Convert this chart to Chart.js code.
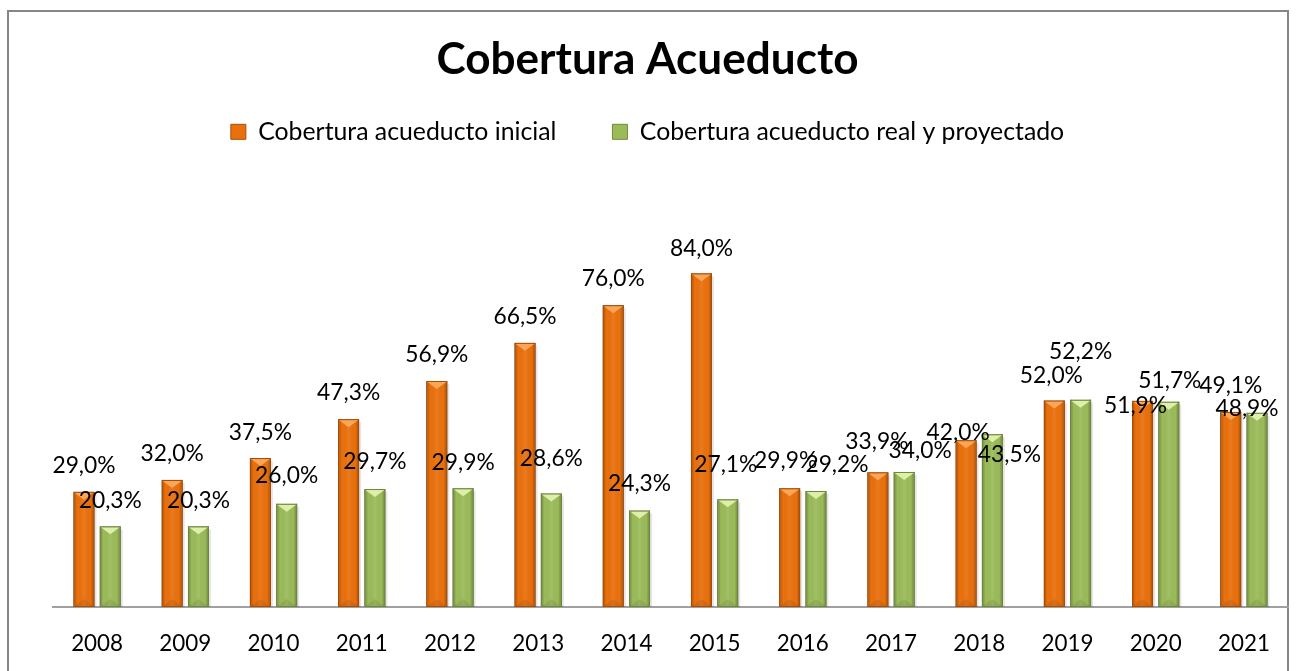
<!DOCTYPE html>
<html><head><meta charset="utf-8">
<script src="https://cdn.jsdelivr.net/npm/chart.js@4.4.1/dist/chart.umd.min.js"></script>
<style>html,body{margin:0;padding:0;background:#fff}</style>
</head><body>
<canvas id="c" width="1296" height="671"></canvas>
<script>
// ---- data ----
const years = ['2008','2009','2010','2011','2012','2013','2014','2015','2016','2017','2018','2019','2020','2021'];
const inicial = [29.0, 32.0, 37.5, 47.3, 56.9, 66.5, 76.0, 84.0, 29.9, 33.9, 42.0, 52.0, 51.9, 49.1];
const realProyectado = [20.3, 20.3, 26.0, 29.7, 29.9, 28.6, 24.3, 27.1, 29.2, 34.0, 43.5, 52.2, 51.7, 48.9];
const seriesNames = ['Cobertura acueducto inicial', 'Cobertura acueducto real y proyectado'];
const chartTitle = 'Cobertura Acueducto';

// label nudges (dx, dy) relative to the default spot above each bar
const inicialNudge = [[0,0],[0,0],[0,1],[0,0],[0,0],[0,0],[0,0],[0,1],[-4,-2],[-1,-5],[-8,18],[-3,1],[-7,31],[0,0]];
const realNudge = [[0,0],[0,0],[0,-2],[0,-1],[0,0],[0,-9],[0,-1],[-2,-9],[21,0],[16,5],[17,46],[0,-22],[1,5],[-10,22]];

// ---- styling ----
const FONT = 'Lato';
function fitSize(text, weight, target) {
  const c = document.createElement('canvas').getContext('2d');
  c.font = weight + ' 100px ' + FONT;
  return Math.round(target * 100 / c.measureText(text).width * 10) / 10;
}
const titleSize = fitSize(chartTitle, 'bold', 422);
const legendSize = fitSize(seriesNames[0], 'normal', 298);
const tickSize = fitSize('2008', 'normal', 52);
const labelSize = fitSize('29,0%', 'normal', 63);

const COLORS = {
  orange: { body: '#EA700C', light: '#FBA657', dark: '#A84E06' },
  green:  { body: '#9BBB59', light: '#DDEFA8', dark: '#6F8A3C' }
};

const fmt = v => v.toFixed(1).replace('.', ',') + '%';

const framePlugin = {
  id: 'frame',
  beforeDraw(chart) {
    const ctx = chart.ctx;
    ctx.save();
    ctx.fillStyle = '#fff';
    ctx.fillRect(0, 0, chart.width, chart.height);
    ctx.strokeStyle = '#868686';
    ctx.lineWidth = 2;
    ctx.strokeRect(8, 11, 1280, 700);
    ctx.restore();
  }
};

const bevelPlugin = {
  id: 'bevel',
  afterDatasetsDraw(chart) {
    const ctx = chart.ctx;
    chart.data.datasets.forEach((ds, di) => {
      const meta = chart.getDatasetMeta(di);
      const col = di === 0 ? COLORS.orange : COLORS.green;
      meta.data.forEach(el => {
        const { x, y, width, base } = el.getProps(['x', 'y', 'width', 'base'], true);
        const l = x - width / 2, r = x + width / 2;
        ctx.save();
        ctx.fillStyle = 'rgba(0,0,0,0.10)';
        ctx.fillRect(r, y + 3, 2, base - y - 3);
        const g = ctx.createLinearGradient(l, 0, r, 0);
        g.addColorStop(0, 'rgba(0,0,0,0.28)');
        g.addColorStop(0.18, 'rgba(0,0,0,0)');
        g.addColorStop(0.5, 'rgba(255,255,255,0.08)');
        g.addColorStop(0.82, 'rgba(0,0,0,0)');
        g.addColorStop(1, 'rgba(0,0,0,0.32)');
        ctx.fillStyle = g;
        ctx.fillRect(l, y, width, base - y);
        ctx.beginPath();
        ctx.moveTo(l + 1, y + 1);
        ctx.lineTo(r - 1, y + 1);
        ctx.lineTo(x, y + 8);
        ctx.closePath();
        ctx.fillStyle = col.light;
        ctx.fill();
        ctx.beginPath();
        ctx.moveTo(l + 1, base - 1);
        ctx.lineTo(r - 1, base - 1);
        ctx.lineTo(x, base - 8);
        ctx.closePath();
        ctx.fillStyle = 'rgba(0,0,0,0.08)';
        ctx.fill();
        ctx.strokeStyle = col.dark;
        ctx.lineWidth = 1;
        ctx.strokeRect(l + 0.5, y + 0.5, width - 1, base - y - 1);
        ctx.restore();
      });
    });
  }
};

const labelPlugin = {
  id: 'valueLabels',
  afterDatasetsDraw(chart) {
    const ctx = chart.ctx;
    ctx.save();
    ctx.font = labelSize + 'px ' + FONT;
    ctx.fillStyle = '#000';
    ctx.textAlign = 'center';
    ctx.textBaseline = 'middle';
    chart.data.datasets.forEach((ds, di) => {
      const meta = chart.getDatasetMeta(di);
      const nudge = di === 0 ? inicialNudge : realNudge;
      meta.data.forEach((el, i) => {
        const n = nudge[i];
        ctx.fillText(fmt(ds.data[i]), el.x + n[0], el.y - 26 + n[1]);
      });
    });
    ctx.restore();
  }
};

new Chart(document.getElementById('c'), {
  type: 'bar',
  data: {
    labels: years,
    datasets: [
      { label: seriesNames[0], data: inicial, backgroundColor: COLORS.orange.body, borderColor: COLORS.orange.dark, borderWidth: 1,
        categoryPercentage: 0.596, barPercentage: 0.8 },
      { label: seriesNames[1], data: realProyectado, backgroundColor: COLORS.green.body, borderColor: COLORS.green.dark, borderWidth: 1,
        categoryPercentage: 0.596, barPercentage: 0.8 }
    ]
  },
  options: {
    responsive: false,
    animation: false,
    devicePixelRatio: 1,
    layout: { padding: { left: 7, right: 8, top: 10, bottom: 0 } },
    plugins: {
      title: { display: true, text: chartTitle, color: '#000',
        font: { family: FONT, size: titleSize, weight: 'bold', lineHeight: 1.0 }, padding: { top: 28, bottom: -18.7 } },
      legend: { display: true, position: 'top',
        labels: { color: '#000', font: { family: FONT, size: legendSize }, boxWidth: 15, boxHeight: 15, padding: 56 } },
      tooltip: { enabled: false }
    },
    scales: {
      x: {
        grid: { display: false, drawTicks: false },
        border: { display: true, color: '#A0A0A0', width: 2 },
        ticks: { color: '#000', font: { family: FONT, size: tickSize }, padding: 23, maxRotation: 0 },
        afterFit(s) { s.height = 64; }
      },
      y: {
        display: true, min: 0, max: 114,
        grid: { display: false, drawTicks: false },
        border: { display: false },
        ticks: { display: false },
        afterFit(s) { s.width = 46; }
      }
    }
  },
  plugins: [framePlugin, bevelPlugin, labelPlugin]
});
</script>
</body></html>
